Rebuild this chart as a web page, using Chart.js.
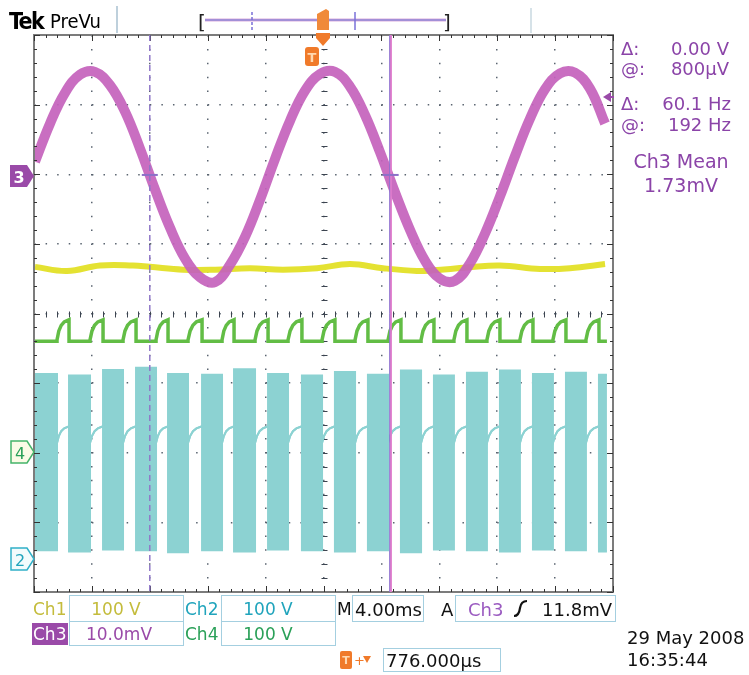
<!DOCTYPE html>
<html><head><meta charset="utf-8">
<script src="https://cdn.jsdelivr.net/npm/chart.js@4.4.0/dist/chart.umd.min.js"></script>
<style>
html,body{margin:0;padding:0;background:#fff;}
#wrap{position:relative;width:749px;height:675px;overflow:hidden;}
#c{position:absolute;left:0;top:0;}
#ov{position:absolute;left:0;top:0;pointer-events:none;}
#ov text{font-family:"DejaVu Sans",sans-serif;}
</style></head>
<body>
<div id="wrap">
<canvas id="c" width="749" height="675"></canvas>
<svg id="ov" width="749" height="675" viewBox="0 0 749 675">
  <!-- header -->
  <text x="9" y="29" font-size="23" font-weight="bold" letter-spacing="-1.5" style="font-family:'DejaVu Sans Condensed','DejaVu Sans';font-stretch:condensed">Tek</text>
  <text x="50" y="28" font-size="20" style="font-family:'DejaVu Sans Condensed','DejaVu Sans';font-stretch:condensed">PreVu</text>
  <line x1="117" y1="6" x2="117" y2="33" stroke="#a8c0d0" stroke-width="1.5"/>
  <text x="198" y="29" font-size="20" fill="#222">[</text>
  <text x="443" y="29" font-size="20" fill="#222">]</text>
  <line x1="205" y1="20" x2="446" y2="20" stroke="#dcaede" stroke-width="3"/>
  <line x1="205" y1="20" x2="446" y2="20" stroke="#6a70d0" stroke-width="1"/>
  <line x1="252" y1="12" x2="252" y2="30" stroke="#7a70d8" stroke-width="1.5" stroke-dasharray="3,2"/>
  <line x1="355" y1="12" x2="355" y2="30" stroke="#7a70d8" stroke-width="1.5"/>
  <path d="M317,14 L326,9 L329,11 L329,30 L317,30 Z" fill="#f08a3a"/>
  <line x1="531" y1="8" x2="531" y2="33" stroke="#c8d8e0" stroke-width="1.5"/>
  <!-- trigger markers at top of plot -->
  <path d="M316,33 H330 V38 L323,46 L316,38 Z" fill="#f07a2a"/>
  <rect x="305" y="47" width="14" height="19" rx="3" fill="#f07a2a"/>
  <text x="312" y="57" font-size="13" font-weight="bold" fill="#ffd8b0" text-anchor="middle" dominant-baseline="central">T</text>
  <!-- trigger level arrow -->
  <path d="M603,97 L611,92 L611,102 Z" fill="#9a4aa8"/>
  <line x1="608" y1="97" x2="614" y2="97" stroke="#9a4aa8" stroke-width="2"/>
  <!-- channel ground tags -->
  <path d="M10,165 H27 L34,176 L27,187 H10 Z" fill="#9a4aa8"/>
  <text x="19" y="177" font-size="16" font-weight="bold" fill="#fff" text-anchor="middle" dominant-baseline="central">3</text>
  <path d="M11,441 H27 L34,452 L27,463 H11 Z" fill="#fbfbe6" stroke="#46b46a" stroke-width="1.5"/>
  <text x="20" y="453" font-size="16" fill="#2aa058" text-anchor="middle" dominant-baseline="central">4</text>
  <path d="M11,548 H27 L34,559 L27,570 H11 Z" fill="#f2fbfc" stroke="#30b0c8" stroke-width="1.5"/>
  <text x="20" y="560" font-size="16" fill="#20a4bc" text-anchor="middle" dominant-baseline="central">2</text>
  <!-- right readouts -->
  <g fill="#8b44a8" font-size="18" dominant-baseline="central">
    <text x="621" y="48">Δ:</text><text x="729" y="48" text-anchor="end">0.00 V</text>
    <text x="621" y="68">@:</text><text x="729" y="68" text-anchor="end">800µV</text>
    <text x="621" y="103">Δ:</text><text x="731" y="103" text-anchor="end">60.1 Hz</text>
    <text x="621" y="124">@:</text><text x="731" y="124" text-anchor="end">192 Hz</text>
    <text x="681" y="161" font-size="19" text-anchor="middle">Ch3 Mean</text>
    <text x="681" y="185" font-size="19" text-anchor="middle">1.73mV</text>
  </g>
  <!-- bottom panel -->
  <g font-size="17" dominant-baseline="central" fill="none">
    <rect x="69.5" y="595.5" width="114" height="26" stroke="#a4cfe0"/>
    <rect x="221.5" y="595.5" width="114" height="26" stroke="#a4cfe0"/>
    <rect x="352.5" y="595.5" width="71" height="26" stroke="#a4cfe0"/>
    <rect x="455.5" y="595.5" width="160" height="26" stroke="#a4cfe0"/>
    <rect x="69.5" y="621.5" width="114" height="24" stroke="#a4cfe0"/>
    <rect x="221.5" y="621.5" width="114" height="24" stroke="#a4cfe0"/>
    <rect x="383.5" y="648.5" width="117" height="23" stroke="#a4cfe0"/>
    <rect x="32" y="623" width="36" height="22" fill="#9a4aa8"/>
    <text x="33" y="609" fill="#c4bc3c">Ch1</text>
    <text x="116" y="609" fill="#c4bc3c" text-anchor="middle">100 V</text>
    <text x="185" y="609" fill="#20a4bc">Ch2</text>
    <text x="268" y="609" fill="#20a4bc" text-anchor="middle">100 V</text>
    <text x="337" y="609" fill="#111">M</text>
    <text x="355" y="609" fill="#111" font-size="18">4.00ms</text>
    <text x="441" y="609" fill="#111" font-size="18">A</text>
    <text x="468" y="609" fill="#9a5ac0" font-size="18">Ch3</text>
    <path d="M514,616 Q519,616 520,608 Q521,601 527,601" stroke="#111" stroke-width="2.2"/>
    <text x="612" y="609" fill="#111" font-size="18" text-anchor="end">11.8mV</text>
    <text x="33" y="634" fill="#fff">Ch3</text>
    <text x="119" y="634" fill="#9a4aa8" text-anchor="middle">10.0mV</text>
    <text x="185" y="634" fill="#2aa058">Ch4</text>
    <text x="268" y="634" fill="#2aa058" text-anchor="middle">100 V</text>
    <rect x="340" y="651" width="12" height="18" rx="2" fill="#f07a2a"/>
    <text x="346" y="660" font-size="11" font-weight="bold" fill="#ffd8b0" text-anchor="middle">T</text>
    <text x="354" y="660" font-size="13" fill="#f07a2a">+</text>
    <path d="M363,656 H371 L367,663 Z" fill="#f07a2a"/>
    <text x="386" y="660" fill="#111" font-size="18">776.000µs</text>
    <text x="627" y="637" fill="#111" font-size="18">29 May 2008</text>
    <text x="627" y="659" fill="#111" font-size="18">16:35:44</text>
  </g>
</svg>
</div>
<script>
// ---- axes: time in ms (4 ms/div, 10 div), vertical in divisions (8 div)
const timeRange = [-20, 20];
const divRange = [-4, 4];
const timePerDiv = 4;

// ---- Ch3 (magenta, 10 mV/div) trace: time (ms), position (div)
const ch3Time = [-19.93,-18.89,-17.86,-16.82,-15.79,-14.75,-13.71,-12.68,-11.64,-10.60,-9.57,-8.53,-7.50,-6.46,-5.42,-4.39,-3.35,-2.31,-1.28,-0.24,0.79,1.83,2.87,3.90,4.94,5.98,7.01,8.05,9.08,10.12,11.16,12.19,13.23,14.27,15.30,16.34,17.37,18.41,19.45];
const ch3Div  = [2.18,2.73,3.17,3.43,3.47,3.28,2.90,2.37,1.78,1.23,0.79,0.52,0.45,0.70,1.10,1.63,2.22,2.77,3.20,3.44,3.47,3.26,2.85,2.32,1.74,1.20,0.76,0.50,0.47,0.72,1.15,1.68,2.26,2.80,3.22,3.45,3.46,3.23,2.73];

// ---- Ch1 (yellow, 100 V/div)
const ch1Time = [-19.93,-17.72,-15.44,-13.16,-11.99,-9.70,-7.49,-5.08,-2.80,-0.45,1.83,4.11,6.46,7.56,9.91,12.19,14.96,17.03,19.45];
const ch1Div  = [0.67,0.61,0.69,0.69,0.67,0.63,0.63,0.65,0.63,0.65,0.71,0.65,0.61,0.62,0.66,0.69,0.64,0.65,0.71];

// ---- Ch2 (cyan) bursts: start / end time (ms), top / bottom (div)
const burstStart = [-20.00,-17.58,-15.23,-12.95,-10.74,-8.39,-6.18,-3.83,-1.49,0.79,3.07,5.35,7.63,9.91,12.19,14.47,16.75,19.03];
const burstEnd   = [-18.41,-16.13,-13.85,-11.57,-9.36,-7.01,-4.73,-2.45,-0.10,2.18,4.46,6.74,9.01,11.29,13.57,15.85,18.13,19.58];
const burstTop   = [-0.87,-0.89,-0.81,-0.78,-0.87,-0.88,-0.80,-0.87,-0.89,-0.84,-0.88,-0.82,-0.89,-0.85,-0.82,-0.87,-0.85,-0.88];
const burstBottom= [-3.40,-3.42,-3.39,-3.40,-3.43,-3.40,-3.42,-3.39,-3.40,-3.42,-3.40,-3.43,-3.39,-3.40,-3.42,-3.39,-3.40,-3.42];
// Ch2 level between bursts, read at fractions of each gap
const gapFraction = [0, 0.15, 0.35, 0.6, 1];
const ch2Gap = [-1.86,-1.76,-1.69,-1.65,-1.62];

// ---- Ch4 (green): low during bursts, rising between them
const ch4Low = -0.40;
const ch4Gap = [-0.38,-0.25,-0.17,-0.12,-0.09];

// ---- cursors (ms) and their marker level (div)
const cursorTimes = [-12.0, 4.64];
const cursorMarkLevel = 1.99;

function pts(xs, ys){ return xs.map((x,i)=>({x, y: ys[i]})); }
const cyanUpper=[], cyanLower=[], green=[];
for (let i=0;i<burstStart.length;i++){
  const s=burstStart[i], e=burstEnd[i];
  cyanUpper.push({x:s,y:burstTop[i]},{x:e,y:burstTop[i]});
  cyanLower.push({x:s,y:burstBottom[i]},{x:e,y:burstBottom[i]});
  green.push({x:s,y:ch4Low},{x:e,y:ch4Low});
  if (i<burstStart.length-1){
    const g=burstStart[i+1]-e;
    gapFraction.forEach((f,k)=>{
      cyanUpper.push({x:e+f*g,y:ch2Gap[k]});
      cyanLower.push({x:e+f*g,y:ch2Gap[k]});
      green.push({x:e+f*g,y:ch4Gap[k]});
    });
  }
}

const MAG='rgba(196,98,188,0.92)', YEL='#e4e232', GRN='#62bd45', CYN='#8cd2d2';

const deco = {
  id:'deco',
  beforeDatasetsDraw(chart){
    const {ctx, chartArea:a, scales:{x,y}} = chart;
    ctx.save();
    ctx.strokeStyle='#3c4450'; ctx.lineWidth=1;
    const x0=Math.round(x.getPixelForValue(0))+0.5, y0=Math.round(y.getPixelForValue(0))+0.5;
    for (let k=0;k<=50;k++){
      const px=Math.round(x.getPixelForValue(timeRange[0]+k*timePerDiv/5))+0.5;
      ctx.beginPath(); ctx.moveTo(px,y0-3); ctx.lineTo(px,y0+3); ctx.stroke();
    }
    for (let k=0;k<=40;k++){
      const py=Math.round(y.getPixelForValue(divRange[0]+k/5))+0.5;
      ctx.beginPath(); ctx.moveTo(x0-3,py); ctx.lineTo(x0+3,py); ctx.stroke();
    }
    ctx.restore();
  },
  afterDatasetsDraw(chart){
    const {ctx, chartArea:a, scales:{x,y}} = chart;
    ctx.save();
    // border ruler
    ctx.strokeStyle='#7c7c7c'; ctx.lineWidth=2;
    ctx.strokeRect(a.left, a.top, a.right-a.left, a.bottom-a.top);
    ctx.strokeStyle='#333'; ctx.lineWidth=1;
    for (let k=0;k<=50;k++){
      const px=Math.round(x.getPixelForValue(timeRange[0]+k*timePerDiv/5))+0.5;
      const L = (k%5===0)?6:3;
      ctx.beginPath(); ctx.moveTo(px,a.top); ctx.lineTo(px,a.top+L); ctx.stroke();
      ctx.beginPath(); ctx.moveTo(px,a.bottom); ctx.lineTo(px,a.bottom-L); ctx.stroke();
    }
    for (let k=0;k<=40;k++){
      const py=Math.round(y.getPixelForValue(divRange[0]+k/5))+0.5;
      const L = (k%5===0)?6:3;
      ctx.beginPath(); ctx.moveTo(a.left,py); ctx.lineTo(a.left+L,py); ctx.stroke();
      ctx.beginPath(); ctx.moveTo(a.right,py); ctx.lineTo(a.right-L,py); ctx.stroke();
    }
    // cursors
    const c1=x.getPixelForValue(cursorTimes[0]), c2=x.getPixelForValue(cursorTimes[1]);
    const ym=y.getPixelForValue(cursorMarkLevel);
    ctx.setLineDash([6,4]); ctx.strokeStyle='#9078c8'; ctx.lineWidth=1.5;
    ctx.beginPath(); ctx.moveTo(c1,a.top); ctx.lineTo(c1,a.bottom); ctx.stroke();
    ctx.setLineDash([]);
    ctx.strokeStyle='#e07ccc'; ctx.lineWidth=2.5;
    ctx.beginPath(); ctx.moveTo(c2,a.top); ctx.lineTo(c2,a.bottom); ctx.stroke();
    ctx.strokeStyle='rgba(120,110,210,0.8)'; ctx.lineWidth=1;
    ctx.beginPath(); ctx.moveTo(c2-1,a.top); ctx.lineTo(c2-1,a.bottom); ctx.stroke();
    ctx.strokeStyle='#8c70c8'; ctx.lineWidth=2;
    [c1,c2].forEach(c=>{ ctx.beginPath(); ctx.moveTo(c-8,ym); ctx.lineTo(c+8,ym); ctx.stroke(); });
    ctx.restore();
  }
};

const lineBase = {pointRadius:0, fill:false};
new Chart(document.getElementById('c'), {
  type:'line',
  data:{datasets:[
    {...lineBase, label:'Ch3', data:pts(ch3Time,ch3Div), borderColor:MAG, borderWidth:10, tension:0.4, order:0},
    {...lineBase, label:'Ch1', data:pts(ch1Time,ch1Div), borderColor:YEL, borderWidth:6, tension:0.4, order:1},
    {...lineBase, label:'Ch4', data:green, borderColor:GRN, borderWidth:3.5, tension:0, order:2},
    {...lineBase, label:'Ch2 top', data:cyanUpper, borderColor:CYN, borderWidth:2, tension:0, order:3},
    {...lineBase, label:'Ch2 bottom', data:cyanLower, borderColor:CYN, borderWidth:2, tension:0, order:4, fill:'-1', backgroundColor:CYN}
  ]},
  options:{
    responsive:false, devicePixelRatio:1, animation:false, events:[],
    layout:{padding:{left:34, top:35, right:136, bottom:83}},
    plugins:{legend:{display:false}, tooltip:{enabled:false}},
    scales:{
      x:{type:'linear', min:timeRange[0], max:timeRange[1],
         ticks:{display:false, stepSize:timePerDiv},
         grid:{color:'#5a6470', lineWidth:1.5, drawTicks:false},
         border:{display:false, dash:[1.5,12.4]}},
      y:{type:'linear', min:divRange[0], max:divRange[1],
         ticks:{display:false, stepSize:1},
         grid:{color:'#5a6470', lineWidth:1.5, drawTicks:false},
         border:{display:false, dash:[1.5,10.08]}}
    }
  },
  plugins:[deco]
});
</script>
</body></html>
